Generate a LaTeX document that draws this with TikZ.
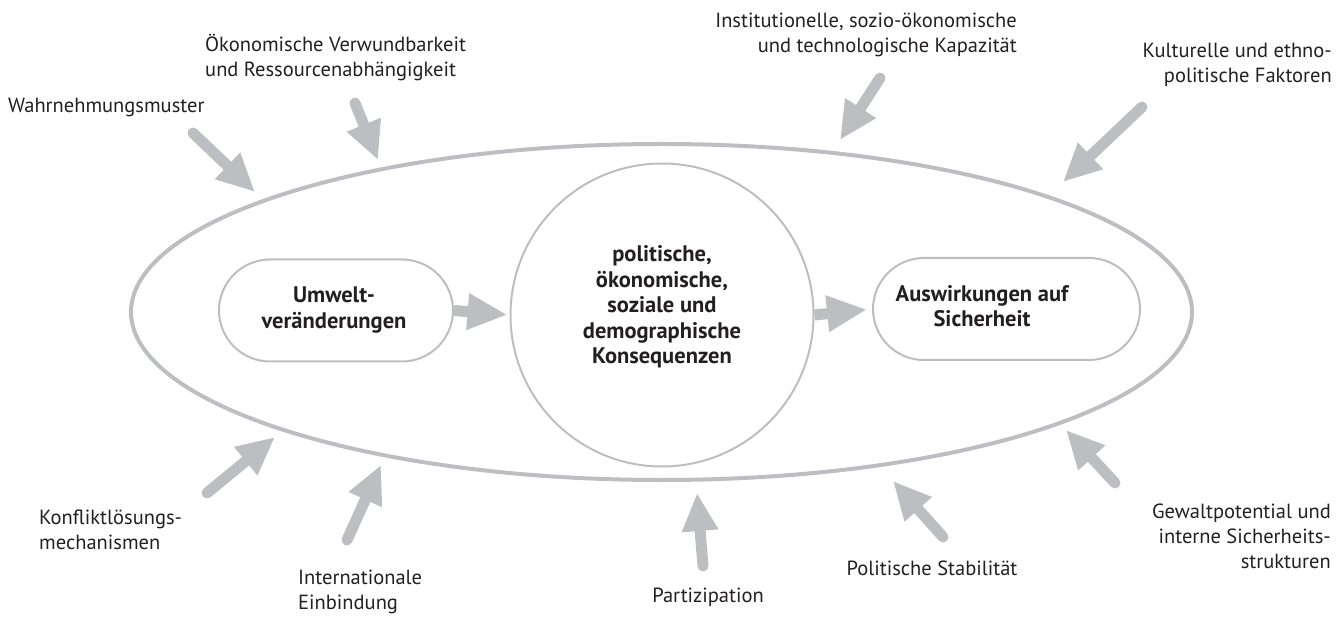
\documentclass[tikz,border=0pt]{standalone}
\usepackage{fontspec}
\setmainfont{PT Sans}
\usetikzlibrary{arrows.meta,shapes.geometric,shapes.misc}
\definecolor{lg}{HTML}{BDBEC1}
\definecolor{tx}{HTML}{231F20}
\begin{document}
\begin{tikzpicture}[x=1pt,y=-1pt,
  lbl/.style={font=\fontsize{20.5}{25}\selectfont, text=tx, inner sep=0pt},
  ctr/.style={font=\bfseries\fontsize{22.5}{25.5}\selectfont, text=tx, align=center, inner sep=0pt},
  pill/.style={draw=lg, line width=2pt, rounded rectangle, minimum height=102pt, inner sep=0pt},
  bigarrow/.style={draw=lg, line width=11pt, line cap=round, -{Triangle[length=38pt,width=34pt]}},
  flowarrow/.style={draw=lg, line width=11pt, -{Triangle[length=40pt,width=34pt]}}
]
\useasboundingbox (0,0) rectangle (1344,617);
% main shapes
\node[draw=lg, line width=4pt, ellipse, minimum width=1061pt, minimum height=336pt, inner sep=0pt] (E) at (661.5,312) {};
\node[draw=lg, line width=2pt, circle, minimum size=303pt, inner sep=0pt] (C) at (662,315) {};
\node[ctr] (Ct) at (662,307) {politische,\\ökonomische,\\soziale und\\demographische\\Konsequenzen};
\node[pill, minimum width=234pt] (L) at (336,310.5) {};
\node[ctr] (Lt) at (334,310) {Umwelt-\\veränderungen};
\node[pill, minimum width=267pt] (R) at (1006.5,309) {};
\node[ctr] (Rt) at (982,306) {Auswirkungen auf\\Sicherheit};
\draw[flowarrow, shorten >=2pt] (L.east) -- (C.west);
\draw[flowarrow, shorten >=5pt] (C.east) -- (R.west);
% labels
\node[lbl, anchor=west] (w) at (8,108) {Wahrnehmungsmuster};
\node[lbl, anchor=west, align=left] (o) at (205,57.5) {Ökonomische Verwundbarkeit\\und Ressourcenabhängigkeit};
\node[lbl, anchor=east, align=right] (i) at (1017,35) {Institutionelle, sozio-ökonomische\\und technologische Kapazität};
\node[lbl, anchor=east, align=right] (k) at (1332,65) {Kulturelle und ethno-\\politische Faktoren};
\node[lbl, anchor=east, align=right] (g) at (1331,536) {Gewaltpotential und\\interne Sicherheits-\\strukturen};
\node[lbl] (p) at (932,568) {Politische Stabilität};
\node[lbl] (pz) at (708,597) {Partizipation};
\node[lbl, anchor=west, align=left] (in) at (298,592) {Internationale\\Einbindung};
\node[lbl, anchor=west, align=left] (ko) at (39,530) {Konfliktlösungs-\\mechanismen};
% arrow ends
\coordinate (wT) at (193,133); \coordinate (wH) at (255,192);
\coordinate (oT) at (355,103); \coordinate (oH) at (378,160);
\coordinate (iT) at (880,78);  \coordinate (iH) at (840,140);
\coordinate (kT) at (1142,107); \coordinate (kH) at (1063,182);
\coordinate (gT) at (1115,483); \coordinate (gH) at (1066,430);
\coordinate (pT) at (943,537); \coordinate (pH) at (893,481);
\coordinate (pzT) at (703,566); \coordinate (pzH) at (697,493);
\coordinate (inT) at (347,540); \coordinate (inH) at (381,465);
\coordinate (koT) at (207,493); \coordinate (koH) at (275,437);
\foreach \a in {w,o,i,k,g,p,pz,in,ko}{
  \draw[bigarrow] (\a T) -- (\a H);
}
\end{tikzpicture}
\end{document}
